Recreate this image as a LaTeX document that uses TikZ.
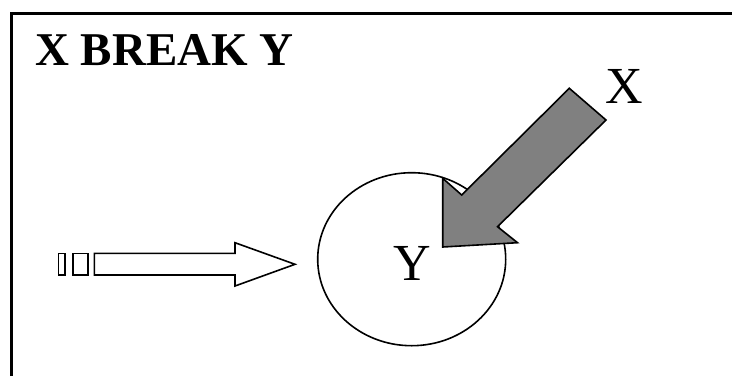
\documentclass[tikz,border=0pt]{standalone}
\usepackage{fontspec}
\setmainfont{Liberation Serif}
\usetikzlibrary{shapes.geometric}

\begin{document}
\begin{tikzpicture}[
        x=1pt, y=-1pt,
        frame/.style={line width=2.6pt},
        blk/.style={draw, line width=1.6pt, line join=miter},
        disk/.style={draw, ellipse, line width=1.6pt, fill=white, minimum width=188pt, minimum height=173pt, inner sep=0pt},
        lbl/.style={inner sep=0pt, font=\fontsize{52}{56}\selectfont}
    ]
        \useasboundingbox (0,0) rectangle (732,376);
        \draw[frame] (11.5,376) -- (11.5,13.5) -- (732,13.5);
        \node[anchor=base west, inner sep=0pt, font=\fontsize{47}{51}\selectfont\bfseries] (title) at (35,65) {X BREAK Y};
        \node[disk] (y) at (411.7,259.2) {};
        \node[lbl] (ylab) at (412,263) {Y};
        \node[lbl] (xlab) at (624,86.5) {X};
        \draw[blk, fill=gray] (569.3,88.3) -- (606,120) -- (497.5,226.7) -- (517.5,242.7) -- (442.7,247) -- (442.7,178.3) -- (461.7,195) -- cycle;
        \draw[blk] (58.3,253.3) rectangle (65,275);
        \draw[blk] (72.7,253.3) rectangle (87.7,275);
        \draw[blk] (94.3,253.3) -- (235,253.3) -- (235,242.7) -- (295,264.3) -- (235,286) -- (235,275) -- (94.3,275) -- cycle;
    \end{tikzpicture}
\end{document}
